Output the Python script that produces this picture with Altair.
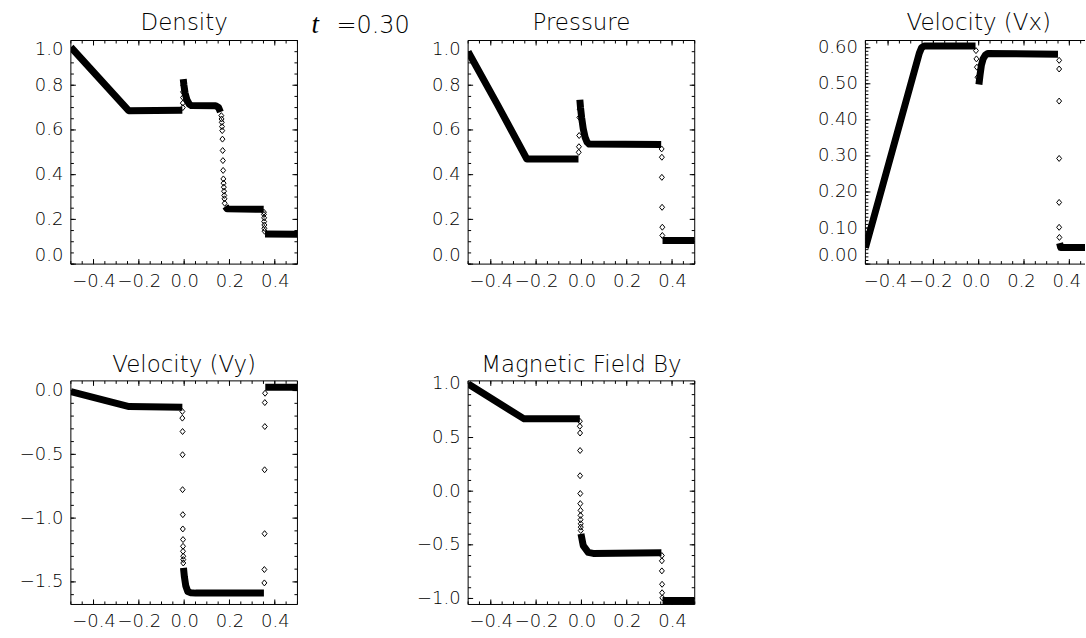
import altair as alt
import pandas as pd

FONT = "DejaVu Sans"
TEXT_WEIGHT = 300

# Shared horizontal axis
X_DOMAIN = [-0.5, 0.5]
X_LABEL_TICKS = [-0.4, -0.2, 0.0, 0.2, 0.4]
X_MINOR_STEP = 0.05

TIME_SYMBOL = "t"
TIME_VALUE = "=0.30"

# ---------------- Density ----------------
RHO_TITLE = "Density"
RHO_BAND_X = [-0.5, -0.245, -0.008,
              -0.004, -0.001, 0.004, 0.012, 0.022, 0.032, 0.139, 0.152, 0.160,
              0.182, 0.190, 0.351,
              0.357, 0.5]
RHO_BAND_Y = [0.97, 0.686, 0.688,
              0.827, 0.80, 0.765, 0.735, 0.716, 0.709, 0.708, 0.700, 0.680,
              0.258, 0.247, 0.245,
              0.135, 0.133]
RHO_BAND_SEG = [0, 0, 0,
                1, 1, 1, 1, 1, 1, 1, 1, 1,
                2, 2, 2,
                3, 3]
RHO_DOT_X = [-0.006, -0.006, -0.005, -0.005, -0.004,
             0.164, 0.165, 0.166, 0.167, 0.168, 0.169, 0.170, 0.171, 0.172,
             0.173, 0.174, 0.175, 0.176, 0.177, 0.178, 0.179,
             0.352, 0.352, 0.353, 0.353, 0.354, 0.354, 0.355]
RHO_DOT_Y = [0.70, 0.72, 0.745, 0.77, 0.80,
             0.664, 0.649, 0.634, 0.615, 0.597, 0.559, 0.508, 0.463, 0.419,
             0.381, 0.362, 0.344, 0.326, 0.307, 0.292, 0.272,
             0.232, 0.222, 0.207, 0.190, 0.175, 0.160, 0.147]

# ---------------- Pressure ----------------
PRS_TITLE = "Pressure"
PRS_BAND_X = [-0.5, -0.37, -0.241, -0.013,
              -0.007, -0.004, 0.001, 0.008, 0.016, 0.025, 0.034, 0.352,
              0.358, 0.5]
PRS_BAND_Y = [0.95, 0.712, 0.47, 0.47,
              0.735, 0.70, 0.655, 0.605, 0.568, 0.545, 0.537, 0.535,
              0.106, 0.106]
PRS_BAND_SEG = [0, 0, 0, 0,
                1, 1, 1, 1, 1, 1, 1, 1,
                2, 2]
PRS_DOT_X = [-0.012, -0.011, -0.010, -0.009, -0.008, -0.008,
             0.354, 0.355, 0.355, 0.356, 0.357, 0.357]
PRS_DOT_Y = [0.50, 0.525, 0.575, 0.656, 0.693, 0.716,
             0.515, 0.478, 0.388, 0.254, 0.165, 0.128]

# ---------------- Velocity (Vx) ----------------
VX_TITLE = "Velocity (Vx)"
VX_BAND_X = [-0.5, -0.262, -0.252, -0.240, -0.014,
             0.001, 0.006, 0.012, 0.020, 0.030, 0.040, 0.350,
             0.357, 0.362, 0.5]
VX_BAND_Y = [0.045, 0.585, 0.600, 0.605, 0.605,
             0.498, 0.525, 0.552, 0.570, 0.580, 0.584, 0.582,
             0.058, 0.046, 0.046]
VX_BAND_SEG = [0, 0, 0, 0, 0,
               1, 1, 1, 1, 1, 1, 1,
               2, 2, 2]
VX_DOT_X = [-0.012, -0.010, -0.008, -0.005,
            0.355, 0.355, 0.355, 0.355, 0.355, 0.355, 0.356]
VX_DOT_Y = [0.592, 0.569, 0.546, 0.518,
            0.565, 0.541, 0.452, 0.293, 0.171, 0.102, 0.074]

# ---------------- Velocity (Vy) ----------------
VY_TITLE = "Velocity (Vy)"
VY_BAND_X = [-0.5, -0.243, -0.008,
             -0.003, 0.001, 0.007, 0.016, 0.030, 0.050, 0.352,
             0.358, 0.5]
VY_BAND_Y = [-0.008, -0.125, -0.13,
             -1.39, -1.46, -1.53, -1.575, -1.586, -1.588, -1.588,
             0.026, 0.026]
VY_BAND_SEG = [0, 0, 0,
               1, 1, 1, 1, 1, 1, 1,
               2, 2]
VY_DOT_X = [-0.008, -0.008, -0.007, -0.007, -0.007, -0.006, -0.006,
            -0.005, -0.005, -0.005, -0.004, -0.004, -0.004,
            0.354, 0.354, 0.355, 0.355, 0.356, 0.356, 0.357]
VY_DOT_Y = [-0.164, -0.216, -0.321, -0.503, -0.777, -0.973, -1.085,
            -1.168, -1.221, -1.260, -1.299, -1.325, -1.352,
            -1.508, -1.403, -1.122, -0.621, -0.282, -0.094, -0.021]

# ---------------- Magnetic Field By ----------------
BY_TITLE = "Magnetic Field By"
BY_BAND_X = [-0.5, -0.253, -0.007,
             -0.002, 0.008, 0.030, 0.052, 0.353,
             0.358, 0.5]
BY_BAND_Y = [1.0, 0.674, 0.674,
             -0.398, -0.508, -0.571, -0.58, -0.575,
             -1.019, -1.019]
BY_BAND_SEG = [0, 0, 0,
               1, 1, 1, 1, 1,
               2, 2]
BY_DOT_X = [-0.007, -0.007, -0.006, -0.006, -0.006, -0.005, -0.005,
            -0.004, -0.004, -0.004, -0.003, -0.003, -0.003,
            0.355, 0.355, 0.355, 0.356, 0.356, 0.357]
BY_DOT_Y = [0.652, 0.605, 0.542, 0.379, 0.144, -0.022, -0.116,
            -0.179, -0.226, -0.266, -0.304, -0.335, -0.367,
            -0.60, -0.649, -0.743, -0.868, -0.947, -0.994]

PANEL_W = 227
PANEL_H = 224
CUT_W = 220            # the right-hand panel runs off the page edge
DIAMOND = "M-0.83,0L0,-1L0.83,0L0,1Z"
MAJOR_LEN = 5
MINOR_LEN = 3


def steps(lo, hi, step):
    n = int(round((hi - lo) / step))
    return [round(lo + k * step, 6) for k in range(n + 1)]


def rule(df=None, **enc):
    src = df if df is not None else pd.DataFrame({"k": [0]})
    return alt.Chart(src).mark_rule(color="black", strokeWidth=1).encode(**enc)


def panel(title, bx, by, bseg, dx, dy, y_domain, y_major, y_minor, y_fmt,
          title_y, width=PANEL_W, extra=()):
    x_hi = X_DOMAIN[0] + (X_DOMAIN[1] - X_DOMAIN[0]) * width / PANEL_W
    xs = alt.Scale(domain=[X_DOMAIN[0], x_hi], nice=False, zero=False)
    ys = alt.Scale(domain=y_domain, nice=False, zero=False)
    label_style = dict(labelOverlap=False, labelFontSize=18, labelFont=FONT,
                       labelFontWeight=TEXT_WEIGHT, labelColor="black",
                       labelPadding=8, title=None, ticks=False, domain=False,
                       grid=False)
    x_axis = alt.Axis(values=X_LABEL_TICKS, format=".1f", labelFlush=False,
                      labelOffset=-3 if width < PANEL_W else 0, **label_style)
    y_axis = alt.Axis(values=y_major, format=y_fmt, labelFlush=True, **label_style)
    X = alt.X("x:Q", scale=xs, axis=x_axis)
    Y = alt.Y("y:Q", scale=ys, axis=y_axis)

    band_df = pd.DataFrame({"x": bx, "y": by, "seg": bseg})
    band_df["i"] = range(len(band_df))
    band = alt.Chart(band_df).mark_line(
        color="black", strokeWidth=7, strokeJoin="round", clip=True
    ).encode(x=X, y=Y, detail="seg:N", order="i:Q")

    dots = alt.Chart(pd.DataFrame({"x": dx, "y": dy})).mark_point(
        shape=DIAMOND, size=36, filled=False, color="black", strokeWidth=1,
        opacity=1, clip=True
    ).encode(x=X, y=Y)

    head = alt.Chart(pd.DataFrame({"s": [title]})).mark_text(
        font=FONT, fontSize=23, fontWeight=TEXT_WEIGHT, align="center",
        baseline="alphabetic", color="black"
    ).encode(x=alt.value(PANEL_W / 2), y=alt.value(title_y), text="s:N")

    layers = [band, dots, head]

    # frame
    layers.append(rule(x=alt.value(0), x2=alt.value(width), y=alt.value(0)))
    layers.append(rule(x=alt.value(0), x2=alt.value(width), y=alt.value(PANEL_H)))
    layers.append(rule(x=alt.value(0), y=alt.value(0), y2=alt.value(PANEL_H)))
    if width == PANEL_W:
        layers.append(rule(x=alt.value(PANEL_W), y=alt.value(0), y2=alt.value(PANEL_H)))

    # inward tick marks
    x_minor = [v for v in steps(X_DOMAIN[0], X_DOMAIN[1], X_MINOR_STEP) if v <= x_hi]
    x_major_df = pd.DataFrame({"x": X_LABEL_TICKS})
    x_minor_df = pd.DataFrame({"x": x_minor})
    y_major_df = pd.DataFrame({"y": y_major})
    y_minor_df = pd.DataFrame({"y": y_minor})
    for df, ln in ((x_major_df, MAJOR_LEN), (x_minor_df, MINOR_LEN)):
        for a, b in ((PANEL_H, PANEL_H - ln), (0, ln)):
            layers.append(rule(df, x=X, y=alt.value(a), y2=alt.value(b)))
    sides = [(0, 1)]
    if width == PANEL_W:
        sides.append((PANEL_W, -1))
    for df, ln in ((y_major_df, MAJOR_LEN), (y_minor_df, MINOR_LEN)):
        for a, sgn in sides:
            layers.append(rule(df, y=Y, x=alt.value(a), x2=alt.value(a + sgn * ln)))

    layers.extend(extra)
    return alt.layer(*layers).properties(width=width, height=PANEL_H)


time_symbol = alt.Chart(pd.DataFrame({"s": [TIME_SYMBOL]})).mark_text(
    font="Liberation Serif", fontStyle="italic", fontSize=27, align="left",
    baseline="alphabetic", color="black"
).encode(x=alt.value(241), y=alt.value(-8), text="s:N")
time_value = alt.Chart(pd.DataFrame({"s": [TIME_VALUE]})).mark_text(
    font=FONT, fontSize=24, fontWeight=TEXT_WEIGHT, align="left",
    baseline="alphabetic", color="black"
).encode(x=alt.value(266), y=alt.value(-8), text="s:N")

unit_major = steps(0.0, 1.0, 0.2)
unit_minor = steps(0.0, 1.0, 0.05)

rho = panel(RHO_TITLE, RHO_BAND_X, RHO_BAND_Y, RHO_BAND_SEG, RHO_DOT_X, RHO_DOT_Y,
            [0.0, 1.0], unit_major, unit_minor, ".1f", -11,
            extra=(time_symbol, time_value))
prs = panel(PRS_TITLE, PRS_BAND_X, PRS_BAND_Y, PRS_BAND_SEG, PRS_DOT_X, PRS_DOT_Y,
            [0.0, 1.0], unit_major, unit_minor, ".1f", -11)
vx = panel(VX_TITLE, VX_BAND_X, VX_BAND_Y, VX_BAND_SEG, VX_DOT_X, VX_DOT_Y,
           [0.0, 0.62], steps(0.0, 0.6, 0.1), steps(0.0, 0.62, 0.01), ".2f", -11,
           width=CUT_W)
vy = panel(VY_TITLE, VY_BAND_X, VY_BAND_Y, VY_BAND_SEG, VY_DOT_X, VY_DOT_Y,
           [-1.677, 0.076], [-1.5, -1.0, -0.5, 0.0], steps(-1.6, 0.0, 0.1), ".1f", -9)
bfield = panel(BY_TITLE, BY_BAND_X, BY_BAND_Y, BY_BAND_SEG, BY_DOT_X, BY_DOT_Y,
               [-1.056, 1.028], [-1.0, -0.5, 0.0, 0.5, 1.0], steps(-1.0, 1.0, 0.1), ".1f", -9)

chart = alt.concat(
    rho, prs, vx, vy, bfield,
    columns=3,
    spacing={"row": 117, "column": 171},
    bounds="flush",
    align="none",
).properties(
    padding={"left": 18, "top": 9, "right": 0, "bottom": 0},
    background="white",
).configure_view(
    stroke="transparent"
)

chart.save("out.html", embed_options={"renderer": "svg", "actions": False})
